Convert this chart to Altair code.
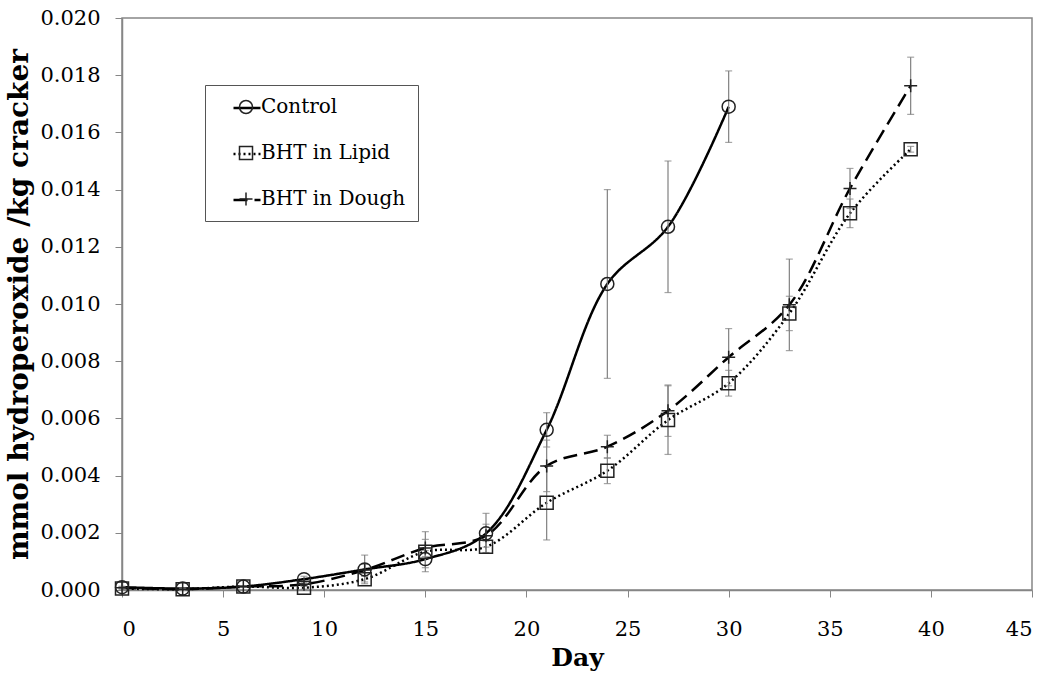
import altair as alt
import pandas as pd

series_names = ["Control", "BHT in Lipid", "BHT in Dough"]

days_control = [0, 3, 6, 9, 12, 15, 18, 21, 24, 27, 30]
control = [0.0001, 0.00005, 0.00012, 0.00038, 0.00072, 0.00108, 0.00198, 0.0056, 0.0107, 0.0127, 0.0169]
control_err = [0.00003, 0.00002, 0.00003, 0.0001, 0.0005, 0.0003, 0.0007, 0.0006, 0.0033, 0.0023, 0.00125]

days_bht = [0, 3, 6, 9, 12, 15, 18, 21, 24, 27, 30, 33, 36, 39]
lipid = [0.00005, 0.00003, 0.00012, 0.00008, 0.00038, 0.00134, 0.00151, 0.00305, 0.00417, 0.00594, 0.00723, 0.00967, 0.01317, 0.01541]
lipid_err = [0.00003, 0.00002, 0.00003, 0.00005, 0.0001, 0.0007, 0.0002, 0.0013, 0.00045, 0.0012, 0.00045, 0.0006, 0.0005, 0.0001]
dough = [0.00008, 0.00003, 0.00012, 0.0002, 0.0007, 0.00147, 0.0019, 0.00434, 0.00501, 0.00627, 0.00814, 0.00997, 0.01404, 0.01763]
dough_err = [0.00003, 0.00002, 0.00003, 0.00005, 0.0002, 0.0003, 0.0004, 0.0009, 0.0004, 0.0009, 0.001, 0.0016, 0.0007, 0.001]

x_ticks = [0, 5, 10, 15, 20, 25, 30, 35, 40, 45]
y_ticks = [0.0, 0.002, 0.004, 0.006, 0.008, 0.010, 0.012, 0.014, 0.016, 0.018, 0.020]

rows = []
for name, days, vals, errs in [
    (series_names[0], days_control, control, control_err),
    (series_names[1], days_bht, lipid, lipid_err),
    (series_names[2], days_bht, dough, dough_err),
]:
    for d, v, e in zip(days, vals, errs):
        rows.append({"day": d, "value": v, "err": e, "series": name, "series2": name + " "})
df = pd.DataFrame(rows)
shape_domain = [n + " " for n in series_names]

FONT = "DejaVu Serif"

base = alt.Chart(df).transform_calculate(
    lo="datum.value - datum.err", hi="datum.value + datum.err"
)

x_enc = alt.X(
    "day:Q",
    scale=alt.Scale(domain=[0, 45], nice=False),
    axis=alt.Axis(values=x_ticks, title="Day", labelPadding=21, titlePadding=6, titleFontSize=25),
)
y_enc = alt.Y(
    "value:Q",
    scale=alt.Scale(domain=[0, 0.02], nice=False),
    axis=alt.Axis(values=y_ticks, format=".3f", title="mmol hydroperoxide /kg cracker",
                  labelPadding=15, titlePadding=6, titleFontSize=28),
)

lines = base.mark_line(interpolate="catmull-rom", color="black", strokeWidth=2.5).encode(
    x=x_enc,
    y=y_enc,
    strokeDash=alt.StrokeDash(
        "series:N",
        scale=alt.Scale(domain=series_names, range=[[1, 0], [2, 3], [14, 7]]),
        legend=alt.Legend(
            title=None, orient="none", legendX=83, legendY=63, padding=12,
            symbolType="stroke", symbolSize=729, symbolStrokeWidth=2.5,
            symbolStrokeColor="black", symbolOffset=15, labelOffset=0,
            labelFont=FONT, labelFontSize=20, labelColor="black", rowPadding=21,
            labelExpr="''",
        ),
    ),
)

rules = base.mark_rule(color="#808080", strokeWidth=1.2).encode(
    x="day:Q", y="lo:Q", y2="hi:Q"
)
caps_lo = base.mark_tick(color="#808080", orient="horizontal", size=7, thickness=1.2).encode(
    x="day:Q", y="lo:Q"
)
caps_hi = base.mark_tick(color="#808080", orient="horizontal", size=7, thickness=1.2).encode(
    x="day:Q", y="hi:Q"
)

points = base.mark_point(filled=False, size=169, strokeWidth=1.5, color="#222222", opacity=1).encode(
    x="day:Q",
    y="value:Q",
    shape=alt.Shape(
        "series2:N",
        scale=alt.Scale(domain=shape_domain, range=["circle", "square", "M-1,0H1M0,-1V1"]),
        legend=alt.Legend(
            title=None, orient="none", legendX=83, legendY=67, padding=12,
            strokeColor="#555555", symbolSize=169, symbolStrokeWidth=1.5,
            symbolStrokeColor="#222222", symbolFillColor="transparent",
            symbolOffset=19, labelOffset=5,
            labelFont=FONT, labelFontSize=20, labelColor="black", rowPadding=26,
            labelExpr="datum.label + '    '", labelLimit=400,
        ),
    ),
)

chart = alt.layer(lines, rules, caps_lo, caps_hi, points).properties(
    width=910, height=572,
    autosize=alt.AutoSizeParams(type="none"),
    padding={"left": 122, "top": 18, "right": 19, "bottom": 87},
).configure(font=FONT).configure_view(
    stroke="#868686", strokeWidth=1.5
).configure_axis(
    grid=False, labelFont=FONT, titleFont=FONT, labelFontSize=21, titleFontSize=20,
    titleFontWeight="bold", labelColor="black", titleColor="black",
    domainColor="#868686", domainWidth=1.5, tickColor="#868686", tickWidth=1, tickSize=7,
)

chart.save("out.html", embed_options={"renderer": "svg", "actions": False})
